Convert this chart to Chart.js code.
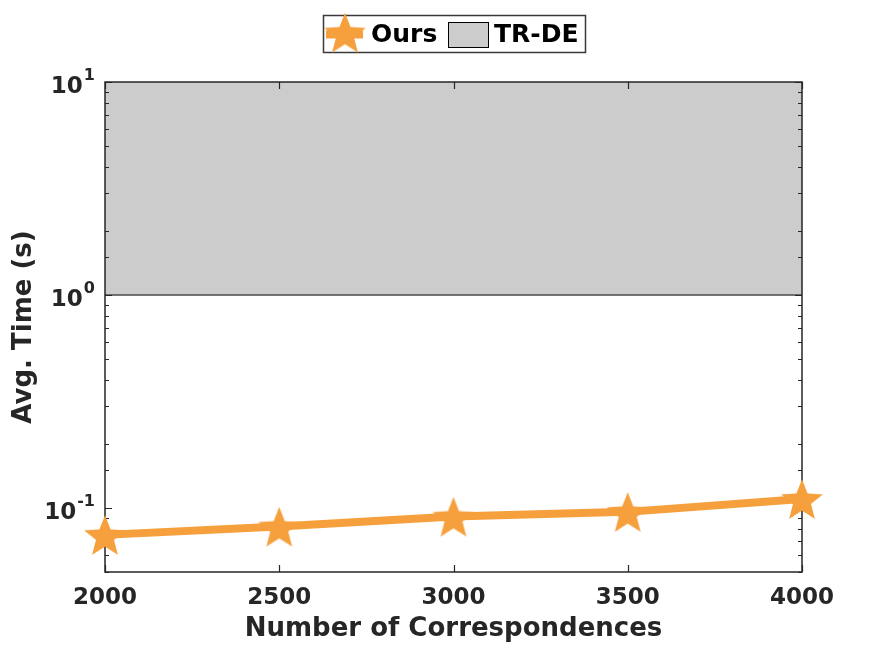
<!DOCTYPE html>
<html>
<head>
<meta charset="utf-8">
<script src="https://cdn.jsdelivr.net/npm/chart.js@4/dist/chart.umd.min.js"></script>
<style>
  html, body { margin: 0; padding: 0; background: #ffffff; }
  #wrap { width: 873px; height: 655px; position: relative; }
</style>
</head>
<body>
<div id="wrap"><canvas id="c" width="873" height="655"></canvas></div>
<script>
// ---- data ----
const categories = [2000, 2500, 3000, 3500, 4000];
const oursTimes = [0.0747, 0.0817, 0.0910, 0.0958, 0.1102];
const trdeLow = 1;
const trdeHigh = 10;
const seriesLabels = ['Ours', 'TR-DE'];
const xTickLabels = ['2000', '2500', '3000', '3500', '4000'];
const yMajorValues = [0.1, 1, 10];
const yMajorExponents = ['-1', '0', '1'];
const yAxisTitle = 'Avg. Time (s)';
const xAxisTitle = 'Number of Correspondences';

const ORANGE = '#f6a03d';
const GRAY = '#cccccc';
const INK = '#262626';
const FONT = "'DejaVu Sans', sans-serif";

function makeStar(outer, color) {
  const inner = outer * 0.43;
  const c = document.createElement('canvas');
  const s = Math.ceil(outer * 2 + 2);
  c.width = s; c.height = s;
  const g = c.getContext('2d');
  g.translate(s / 2, s / 2 + outer * 0.1);
  g.beginPath();
  for (let i = 0; i < 10; i++) {
    const r = i % 2 === 0 ? outer : inner;
    const a = -Math.PI / 2 + i * Math.PI / 5;
    const px = r * Math.cos(a), py = r * Math.sin(a);
    if (i === 0) g.moveTo(px, py); else g.lineTo(px, py);
  }
  g.closePath();
  g.fillStyle = color;
  g.fill();
  return c;
}
const starImg = makeStar(22, ORANGE);

const frame = {
  id: 'frame',
  beforeDatasetDraw(chart, args) {
    if (args.index !== 0) return;
    const { ctx, chartArea: a, scales } = chart;
    const ys = scales.y, xs = scales.x;
    ctx.save();
    ctx.strokeStyle = INK;
    ctx.lineWidth = 1.5;
    ctx.strokeRect(a.left, a.top, a.right - a.left, a.bottom - a.top);
    ctx.lineWidth = 1.2;
    ys.ticks.forEach(t => {
      const v = t.value;
      const y = Math.round(ys.getPixelForValue(v)) + 0.5;
      const major = yMajorValues.some(m => Math.abs(m - v) / m < 1e-6);
      const len = major ? 7 : 4;
      ctx.beginPath();
      ctx.moveTo(a.left, y); ctx.lineTo(a.left + len, y);
      ctx.moveTo(a.right, y); ctx.lineTo(a.right - len, y);
      ctx.stroke();
    });
    categories.forEach(v => {
      const x = Math.round(xs.getPixelForValue(v)) + 0.5;
      ctx.beginPath();
      ctx.moveTo(x, a.bottom); ctx.lineTo(x, a.bottom - 7);
      ctx.moveTo(x, a.top); ctx.lineTo(x, a.top + 7);
      ctx.stroke();
    });
    ctx.restore();
  },
  afterDraw(chart) {
    const { ctx, chartArea: a, scales } = chart;
    const ys = scales.y, xs = scales.x;
    ctx.save();
    ctx.fillStyle = INK;
    ctx.font = `bold 23px ${FONT}`;
    ctx.textAlign = 'center';
    ctx.textBaseline = 'alphabetic';
    categories.forEach((v, i) => {
      ctx.fillText(xTickLabels[i], xs.getPixelForValue(v), a.bottom + 32);
    });
    yMajorValues.forEach((v, i) => {
      const y = ys.getPixelForValue(v);
      const right = a.left - 10;
      ctx.textAlign = 'right';
      ctx.font = `bold 16px ${FONT}`;
      const ew = ctx.measureText(yMajorExponents[i]).width;
      ctx.fillText(yMajorExponents[i], right, y - 2);
      ctx.font = `bold 23px ${FONT}`;
      ctx.fillText('10', right - ew - 1, y + 11);
    });
    ctx.textAlign = 'center';
    ctx.font = `bold 26px ${FONT}`;
    ctx.fillText(xAxisTitle, (a.left + a.right) / 2, a.bottom + 64);
    ctx.save();
    ctx.translate(31, (a.top + a.bottom) / 2);
    ctx.rotate(-Math.PI / 2);
    ctx.fillText(yAxisTitle, 0, 0);
    ctx.restore();
    // legend
    const lx = 323, ly = 15, lw = 262, lh = 37;
    ctx.fillStyle = '#ffffff';
    ctx.fillRect(lx, ly, lw, lh);
    ctx.strokeStyle = '#3a3a3a';
    ctx.lineWidth = 1.5;
    ctx.strokeRect(lx + 0.5, ly + 0.5, lw, lh);
    const cy = ly + lh / 2 + 1;
    ctx.strokeStyle = ORANGE;
    ctx.lineWidth = 8;
    ctx.beginPath();
    ctx.moveTo(lx + 3, cy); ctx.lineTo(lx + 40, cy); ctx.stroke();
    ctx.drawImage(starImg, lx + 22 - starImg.width / 2, cy - starImg.height / 2 - 2);
    ctx.fillStyle = '#000000';
    ctx.font = `bold 25px ${FONT}`;
    ctx.textAlign = 'left';
    ctx.textBaseline = 'middle';
    ctx.fillText(seriesLabels[0], lx + 48, cy + 1);
    ctx.fillStyle = GRAY;
    ctx.fillRect(lx + 125, ly + 7, 40, 25);
    ctx.strokeStyle = '#000000';
    ctx.lineWidth = 1;
    ctx.strokeRect(lx + 125.5, ly + 7.5, 40, 25);
    ctx.fillStyle = '#000000';
    ctx.fillText(seriesLabels[1], lx + 171, cy + 1);
    ctx.restore();
  }
};

new Chart(document.getElementById('c'), {
  type: 'line',
  data: {
    datasets: [
      {
        label: seriesLabels[0],
        data: categories.map((x, i) => ({ x, y: oursTimes[i] })),
        borderColor: ORANGE,
        backgroundColor: ORANGE,
        borderWidth: 8,
        pointStyle: starImg,
        pointRadius: 22,
        fill: false,
        clip: false,
        tension: 0
      },
      {
        label: seriesLabels[1],
        data: [{ x: categories[0], y: trdeLow }, { x: categories[categories.length - 1], y: trdeLow }],
        borderColor: '#4a4a4a',
        borderWidth: 1.5,
        backgroundColor: GRAY,
        pointRadius: 0,
        fill: { value: trdeHigh },
        tension: 0
      }
    ]
  },
  options: {
    responsive: false,
    animation: false,
    devicePixelRatio: 1,
    layout: { padding: { left: 0, right: 71, top: 82, bottom: 0 } },
    plugins: { legend: { display: false }, tooltip: { enabled: false } },
    scales: {
      x: {
        type: 'linear',
        min: 2000, max: 4000,
        grid: { display: false },
        border: { display: false },
        ticks: { display: false, stepSize: 500 },
        afterFit(s) { s.height = 83; }
      },
      y: {
        type: 'logarithmic',
        min: 0.05, max: 10,
        grid: { display: false },
        border: { display: false },
        ticks: { display: false },
        afterFit(s) { s.width = 105; }
      }
    }
  },
  plugins: [frame]
});
</script>
</body>
</html>
